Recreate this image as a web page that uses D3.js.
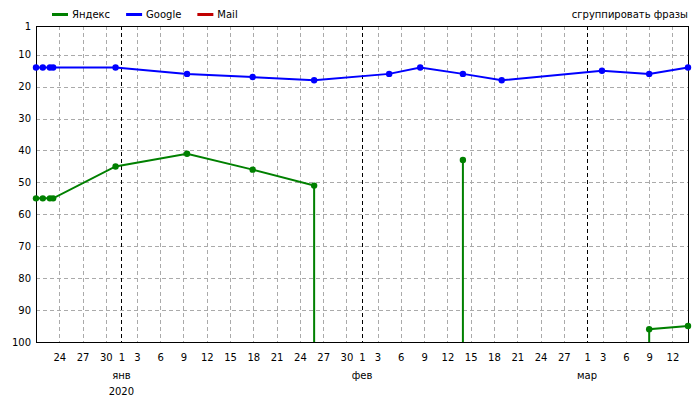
<!DOCTYPE html>
<html>
<head>
<meta charset="utf-8">
<script src="https://cdn.jsdelivr.net/npm/d3@7"></script>
<style>
  body { margin: 0; background: #fff; }
  svg text { font-family: "DejaVu Sans", Verdana, sans-serif; font-size: 10px; fill: #000; }
</style>
</head>
<body>
<div id="chart"></div>
<script>
// data (dates of position checks, ranks; null = not in top 100)
const dates = ["2019-12-21T00:00", "2019-12-21T21:00", "2019-12-22T19:00", "2019-12-23T05:00",
  "2019-12-31T06:00", "2020-01-09T11:00", "2020-01-17T22:00", "2020-01-25T20:00",
  "2020-02-04T12:00", "2020-02-08T12:00", "2020-02-14T00:00", "2020-02-19T00:00",
  "2020-03-02T22:00", "2020-03-09T00:00", "2020-03-14T00:00"];
const yandex = [55, 55, 55, 55, 45, 41, 46, 51, null, null, 43, null, null, 96, 95];
const google = [14, 14, 14, 14, 14, 16, 17, 18, 16, 14, 16, 18, 15, 16, 14];
const mail = [null, null, null, null, null, null, null, null, null, null, null, null, null, null, null];

const seriesNames = ["Яндекс", "Google", "Mail"];
const seriesColors = ["#008000", "#0000ff", "#c00000"];
const yTicks = [1, 10, 20, 30, 40, 50, 60, 70, 80, 90, 100];
const monthLabels = ["янв", "фев", "мар"];
const monthStarts = ["2020-01-01", "2020-02-01", "2020-03-01"];
const yearLabels = ["2020"];
const dateRange = ["2019-12-21", "2020-03-14"];

const width = 700, height = 400;
const margin = {top: 26, left: 36, right: 12, bottom: 58};

const parse = d3.timeParse("%Y-%m-%dT%H:%M");
const parseDay = d3.timeParse("%Y-%m-%d");

const svg = d3.select("#chart")
  .append("svg")
  .attr("width", width)
  .attr("height", height);

const xScale = d3.scaleTime()
  .domain(dateRange.map(parseDay))
  .range([margin.left, width - margin.right]);

const yScale = d3.scaleLinear()
  .domain([1, 100])
  .range([margin.top, height - margin.bottom]);

const bottom = yScale(100);
const months = monthStarts.map(parseDay);
const start = xScale.domain()[0], end = xScale.domain()[1];

// ticks: the 1st of a month and every 3rd day, inside the frame
const dayTicks = d3.timeDay.range(d3.timeDay.offset(start, 1), end)
  .filter(function(d) { return d.getDate() === 1 || d.getDate() % 3 === 0; });

// grid
const grid = svg.append("g").attr("shape-rendering", "crispEdges");
grid.selectAll(".hgrid")
  .data(yTicks.filter(function(v) { return v !== 1 && v !== 100; }))
  .enter().append("line")
    .attr("x1", margin.left).attr("x2", width - margin.right)
    .attr("y1", function(d) { return Math.round(yScale(d)) + 0.5; })
    .attr("y2", function(d) { return Math.round(yScale(d)) + 0.5; })
    .attr("stroke", "#aaa")
    .attr("stroke-dasharray", "4,3");

grid.selectAll(".vgrid")
  .data(dayTicks)
  .enter().append("line")
    .attr("x1", function(d) { return Math.round(xScale(d)) + 0.5; })
    .attr("x2", function(d) { return Math.round(xScale(d)) + 0.5; })
    .attr("y1", margin.top).attr("y2", bottom)
    .attr("stroke", function(d) { return d.getDate() === 1 ? "#000" : "#aaa"; })
    .attr("stroke-dasharray", "4,3");

// frame
svg.append("rect")
  .attr("x", margin.left + 0.5)
  .attr("y", margin.top + 0.5)
  .attr("width", width - margin.right - margin.left)
  .attr("height", bottom - margin.top)
  .attr("fill", "none")
  .attr("stroke", "#000")
  .attr("shape-rendering", "crispEdges");

// axes
const xAxis = svg.append("g")
  .attr("transform", `translate(0,${bottom})`)
  .call(d3.axisBottom(xScale).tickValues(dayTicks).tickSize(0).tickPadding(12)
    .tickFormat(d3.timeFormat("%-d")));
xAxis.select(".domain").remove();

const yAxis = svg.append("g")
  .attr("transform", `translate(${margin.left},0)`)
  .call(d3.axisLeft(yScale).tickValues(yTicks).tickSize(0).tickPadding(5));
yAxis.select(".domain").remove();

svg.selectAll(".tick text").attr("font-family", null).attr("font-size", null);

// month and year labels
svg.selectAll(".month")
  .data(months)
  .enter().append("text")
    .attr("x", function(d) { return xScale(d); })
    .attr("y", bottom + 37)
    .attr("text-anchor", "middle")
    .text(function(d, i) { return monthLabels[i]; });

svg.selectAll(".year")
  .data(yearLabels)
  .enter().append("text")
    .attr("x", xScale(months[0]))
    .attr("y", bottom + 53)
    .attr("text-anchor", "middle")
    .text(function(d) { return d; });

// series: a rank that leaves the top 100 drops to the bottom edge
const allSeries = [yandex, google, mail];
const dts = dates.map(parse);

function buildPath(values) {
  // null entries in the result break the line
  const pts = [];
  values.forEach(function(v, i) {
    if (v === null) { pts.push(null); return; }
    const prev = i > 0 ? values[i - 1] : 0;
    const next = i < values.length - 1 ? values[i + 1] : 0;
    if (prev === null) pts.push([xScale(dts[i]), bottom]);
    pts.push([xScale(dts[i]), yScale(v)]);
    if (next === null) pts.push([xScale(dts[i]), bottom]);
  });
  return pts;
}

const line = d3.line().defined(function(p) { return p !== null; });

allSeries.forEach(function(values, s) {
  const pts = buildPath(values);
  if (pts.some(function(p) { return p !== null; })) {
    svg.append("path")
      .attr("d", line(pts))
      .attr("fill", "none")
      .attr("stroke", seriesColors[s])
      .attr("stroke-width", 2);
  }
  svg.append("g").selectAll("circle")
    .data(values.map(function(v, i) { return {v: v, d: dts[i]}; }).filter(function(p) { return p.v !== null; }))
    .enter().append("circle")
      .attr("cx", function(p) { return xScale(p.d); })
      .attr("cy", function(p) { return yScale(p.v); })
      .attr("r", 3.2)
      .attr("fill", seriesColors[s]);
});

// legend
let lx = 52;
seriesNames.forEach(function(name, i) {
  svg.append("line")
    .attr("x1", lx).attr("x2", lx + 16)
    .attr("y1", 14.5).attr("y2", 14.5)
    .attr("stroke", seriesColors[i])
    .attr("stroke-width", 3);
  const t = svg.append("text")
    .attr("x", lx + 20)
    .attr("y", 18)
    .text(name);
  lx += 20 + t.node().getComputedTextLength() + 16;
});

svg.append("text")
  .attr("x", width - margin.right)
  .attr("y", 18)
  .attr("text-anchor", "end")
  .text("сгруппировать фразы");
</script>
</body>
</html>
